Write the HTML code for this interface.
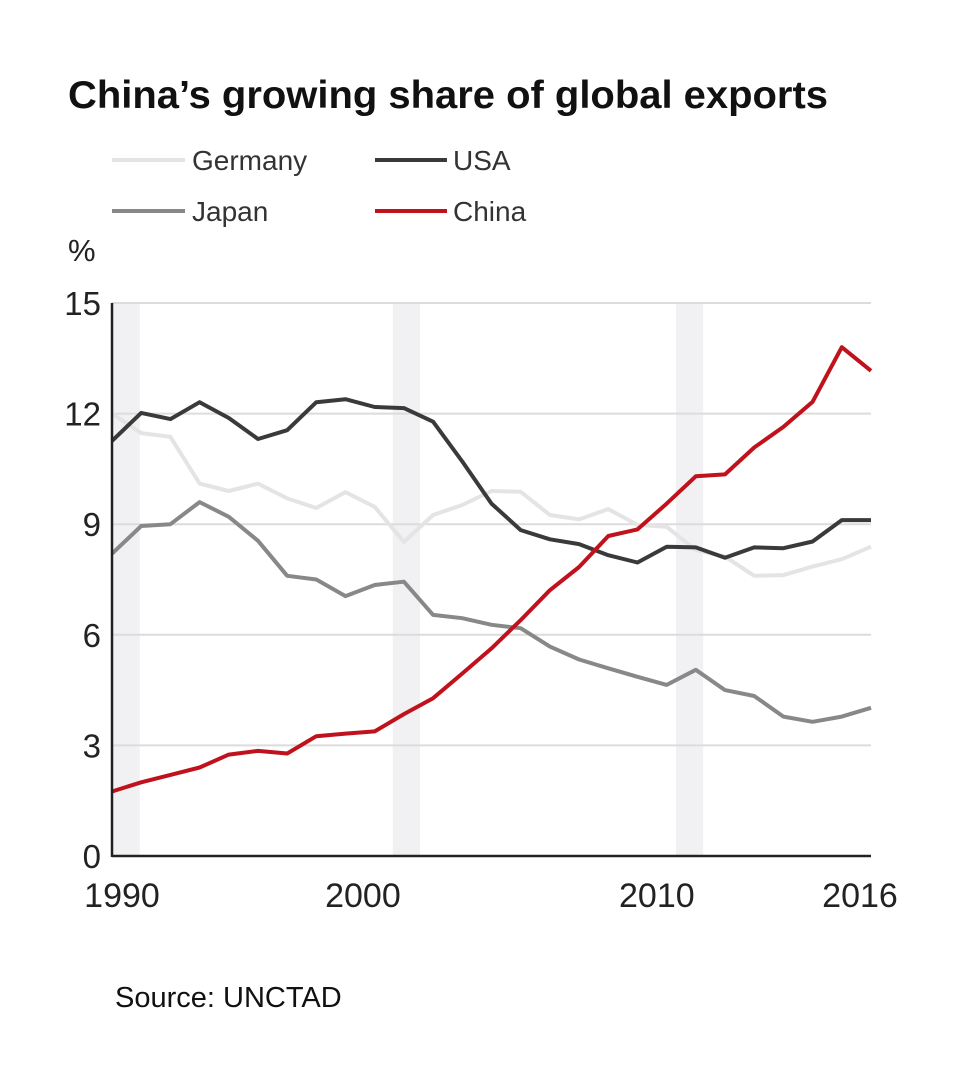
<!DOCTYPE html>
<html><head><meta charset="utf-8"><style>
body{margin:0;background:#fff;}
svg{display:block;font-family:"Liberation Sans",Arial,sans-serif;}
</style></head><body>
<svg id="chart" width="960" height="1080" viewBox="0 0 960 1080" xmlns="http://www.w3.org/2000/svg">
<rect width="960" height="1080" fill="#fff"/>
<text x="68" y="108" font-size="39" font-weight="bold" fill="#111" textLength="760" lengthAdjust="spacingAndGlyphs">China’s growing share of global exports</text>
<g>
<line x1="112" y1="160" x2="185" y2="160" stroke="#e4e4e4" stroke-width="4"/>
<text x="192" y="170" font-size="28" fill="#333">Germany</text>
<line x1="375" y1="160" x2="447" y2="160" stroke="#3a3a3a" stroke-width="4"/>
<text x="453" y="170" font-size="28" fill="#333">USA</text>
<line x1="112" y1="211" x2="185" y2="211" stroke="#888" stroke-width="4"/>
<text x="192" y="221" font-size="28" fill="#333">Japan</text>
<line x1="375" y1="211" x2="447" y2="211" stroke="#c0121c" stroke-width="4"/>
<text x="453" y="221" font-size="28" fill="#333">China</text>
</g>
<text x="68" y="261" font-size="31" fill="#222">%</text>
<g id="bands"></g>
<g id="grid"></g>
<g id="series"></g>
<g id="axes"></g>
<text x="115" y="1007" font-size="29" fill="#111">Source: UNCTAD</text>
</svg>
<script>
const years = [];
for (let y = 1990; y <= 2016; y++) years.push(y);
const germany = [12.0,11.47,11.37,10.1,9.9,10.1,9.7,9.44,9.87,9.47,8.52,9.25,9.52,9.9,9.88,9.25,9.13,9.41,8.98,8.93,8.3,8.12,7.6,7.62,7.85,8.05,8.39];
const usa = [11.26,12.02,11.85,12.31,11.88,11.31,11.55,12.31,12.39,12.18,12.15,11.78,10.7,9.56,8.84,8.59,8.46,8.16,7.96,8.39,8.37,8.09,8.37,8.35,8.53,9.11,9.11];
const japan = [8.2,8.95,9.0,9.6,9.2,8.55,7.6,7.5,7.05,7.35,7.44,6.54,6.45,6.27,6.18,5.68,5.33,5.09,4.86,4.64,5.05,4.5,4.34,3.78,3.64,3.78,4.02];
const china = [1.75,2.0,2.2,2.4,2.75,2.85,2.78,3.25,3.32,3.38,3.85,4.28,4.95,5.63,6.4,7.21,7.84,8.68,8.86,9.56,10.3,10.35,11.08,11.64,12.32,13.8,13.16];
const yTicks = [0,3,6,9,12,15];
const xTickYears = [1990,2000,2010,2016];
const xTickLabels = ["1990","2000","2010","2016"];
const bandYears = [[1990,1990.95],[1999.62,2000.55],[2009.32,2010.25]];

const NS = "http://www.w3.org/2000/svg";
const X0 = 112, X1 = 871, Y0 = 856, Y1 = 303;
function xs(y){ return X0 + (y - 1990) / 26 * (X1 - X0); }
function ys(v){ return Y0 - v / 15 * (Y0 - Y1); }
function mk(tag, attrs, parent){ const e = document.createElementNS(NS, tag); for (const k in attrs) e.setAttribute(k, attrs[k]); document.getElementById(parent).appendChild(e); return e; }

bandYears.forEach(b => {
  const r = mk("rect", {x: xs(b[0]), y: Y1, width: xs(b[1]) - xs(b[0]), height: Y0 - Y1, fill: "#f1f1f3"}, "bands");
  
  
});
yTicks.forEach(t => {
  if (t > 0) {
    const l = mk("line", {x1: X0, x2: X1, y1: ys(t), y2: ys(t), stroke: "#dcdcdc", "stroke-width": 2}, "grid");
    
    
  }
  const tx = mk("text", {x: 101, y: ys(t) + 12, "font-size": 33, "text-anchor": "end", fill: "#222"}, "axes");
  tx.textContent = t;
  
  
});
const labelShift = [10, -41, -39, -11];
xTickYears.forEach((yr, i) => {
  const tx = mk("text", {x: xs(yr) + labelShift[i], y: 907, "font-size": 34, "text-anchor": "middle", fill: "#222"}, "axes");
  tx.textContent = xTickLabels[i];
  
  
});
const ya = mk("line", {x1: X0, x2: X0, y1: Y1, y2: Y0 + 1, stroke: "#222", "stroke-width": 2.5}, "axes");


const xa = mk("line", {x1: X0, x2: X1, y1: Y0, y2: Y0, stroke: "#222", "stroke-width": 2.5}, "axes");



function line(data, color, name){
  const d = data.map((v, i) => (i ? "L" : "M") + xs(years[i]).toFixed(1) + " " + ys(v).toFixed(1)).join(" ");
  const p = mk("path", {d: d, fill: "none", stroke: color, "stroke-width": 4, "stroke-linejoin": "round"}, "series");
  
  
}
line(germany, "#e4e4e4", "germany-line");
line(japan, "#888888", "japan-line");
line(usa, "#3a3a3a", "usa-line");
line(china, "#c0121c", "china-line");
</script>
</body></html>
